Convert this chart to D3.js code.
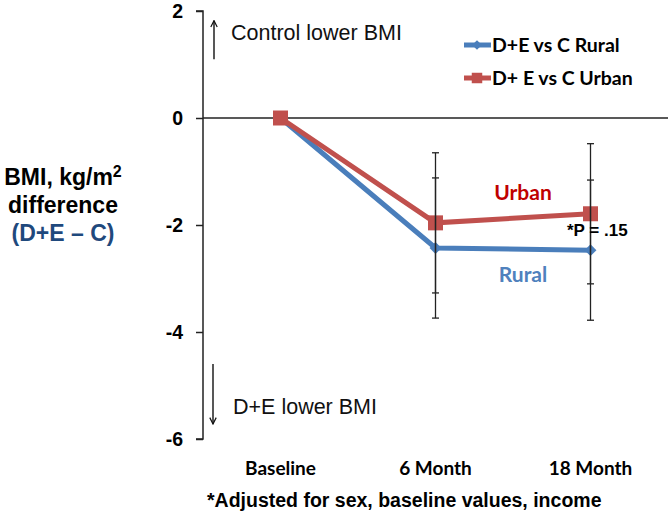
<!DOCTYPE html>
<html><head><meta charset="utf-8">
<script src="https://cdn.jsdelivr.net/npm/d3@7"></script>
<style>body{margin:0;background:#fff;}svg{display:block;}</style>
</head><body>
<svg id="c" width="669" height="516"></svg>
<script>
const categories = ["Baseline", "6 Month", "18 Month"];
const ruralValues = [0, -2.43, -2.47];
const ruralLow = [null, -3.74, -3.78];
const ruralHigh = [null, -1.12, -1.16];
const urbanValues = [0, -1.96, -1.79];
const urbanLow = [null, -3.27, -3.10];
const urbanHigh = [null, -0.65, -0.48];
const yTicks = [2, 0, -2, -4, -6];
const seriesNames = ["D+E vs C Rural", "D+ E vs C Urban"];

const svg = d3.select("#c");
const x = d3.scalePoint().domain(categories).range([203, 668]).padding(0.5);
const y = d3.scaleLinear().domain([-6, 2]).range([439, 11]);

const blue = "#4A7EBB", red = "#C0504D";
const arial = "Liberation Sans, Arial, sans-serif";
const legFont = "Lato, Carlito, sans-serif";

// y axis
const yAxis = d3.axisLeft(y).tickValues(yTicks).tickSize(7).tickFormat(d => String(d));
const ga = svg.append("g").attr("transform", "translate(203,0)").call(yAxis);
ga.select(".domain").attr("stroke", "#222").attr("stroke-width", 1.5).attr("d", "M-7," + y(2) + "H0V" + y(-6) + "H-7");
ga.selectAll(".tick line").attr("stroke", "#222").attr("stroke-width", 1.5);
ga.selectAll(".tick text").attr("x", -20).attr("font-family", arial)
  .attr("font-weight", "bold").attr("font-size", 19.5).attr("fill", "#000");

// zero line
svg.append("line").attr("x1", 203).attr("x2", 668).attr("y1", y(0)).attr("y2", y(0))
  .attr("stroke", "#222").attr("stroke-width", 1.5);

// arrows
const defs = svg.append("defs");
defs.append("marker").attr("id", "ah").attr("viewBox", "0 0 10 10").attr("refX", 9).attr("refY", 5)
  .attr("markerWidth", 8).attr("markerHeight", 8).attr("markerUnits", "userSpaceOnUse").attr("orient", "auto")
  .append("path").attr("d", "M1,1L9,5L1,9").attr("fill", "none").attr("stroke", "#111").attr("stroke-width", 1.5);
svg.append("line").attr("x1", 214).attr("x2", 214).attr("y1", y(1.1)).attr("y2", y(1.82))
  .attr("stroke", "#111").attr("stroke-width", 1.4).attr("marker-end", "url(#ah)");
svg.append("line").attr("x1", 213).attr("x2", 213).attr("y1", y(-4.6)).attr("y2", y(-5.72))
  .attr("stroke", "#111").attr("stroke-width", 1.4).attr("marker-end", "url(#ah)");
svg.append("text").attr("x", 231).attr("y", 40).text("Control lower BMI")
  .attr("font-family", arial).attr("font-size", 21.5).attr("fill", "#111");
svg.append("text").attr("x", 233).attr("y", 414).text("D+E lower BMI")
  .attr("font-family", arial).attr("font-size", 21.5).attr("fill", "#111");

// lines and markers
const line = d3.line().x((d, i) => x(categories[i])).y(d => y(d));
svg.append("path").datum(ruralValues).attr("d", line).attr("fill", "none").attr("stroke", blue).attr("stroke-width", 5);
svg.append("path").datum(urbanValues).attr("d", line).attr("fill", "none").attr("stroke", red).attr("stroke-width", 5);

const diamond = d3.symbol().type(d3.symbolDiamond2).size(90);
const square = d3.symbol().type(d3.symbolSquare).size(225);
ruralValues.forEach((v, i) => svg.append("path").attr("d", diamond())
  .attr("transform", `translate(${x(categories[i])},${y(v)})`).attr("fill", blue));
urbanValues.forEach((v, i) => svg.append("path").attr("d", square())
  .attr("transform", `translate(${x(categories[i])},${y(v)})`).attr("fill", red));

// error bars (drawn on top)
function errBars(low, high) {
  categories.forEach((c, i) => {
    if (low[i] == null) return;
    const cx = x(c);
    svg.append("line").attr("x1", cx).attr("x2", cx).attr("y1", y(high[i])).attr("y2", y(low[i]))
      .attr("stroke", "#222").attr("stroke-width", 1.3);
    [low[i], high[i]].forEach(v => svg.append("line").attr("x1", cx - 3.5).attr("x2", cx + 3.5)
      .attr("y1", y(v)).attr("y2", y(v)).attr("stroke", "#222").attr("stroke-width", 1.3));
  });
}
errBars(urbanLow, urbanHigh);
errBars(ruralLow, ruralHigh);

// legend
[[blue, 45], [red, 78]].forEach((s, i) => {
  const ly = s[1];
  svg.append("line").attr("x1", 464).attr("x2", 491).attr("y1", ly).attr("y2", ly).attr("stroke", s[0]).attr("stroke-width", 5);
  svg.append("path").attr("d", i === 0 ? d3.symbol().type(d3.symbolDiamond2).size(60)() : d3.symbol().type(d3.symbolSquare).size(110)())
    .attr("transform", `translate(477,${ly})`).attr("fill", s[0]);
  svg.append("text").attr("x", 492).attr("y", ly + 7).text(seriesNames[i])
    .attr("font-family", legFont).attr("font-weight", "bold").attr("font-size", 19.5).attr("fill", "#000");
});

// category labels
categories.forEach(c => svg.append("text").attr("x", x(c)).attr("y", 475).attr("text-anchor", "middle").text(c)
  .attr("font-family", legFont).attr("font-weight", "bold").attr("font-size", 19).attr("fill", "#000"));

// annotations
svg.append("text").attr("x", 523).attr("y", 200).attr("text-anchor", "middle").text("Urban")
  .attr("font-family", legFont).attr("font-weight", "bold").attr("font-size", 21).attr("fill", "#C00000");
svg.append("text").attr("x", 523).attr("y", 282).attr("text-anchor", "middle").text("Rural")
  .attr("font-family", legFont).attr("font-weight", "bold").attr("font-size", 21).attr("fill", "#4F81BD");
svg.append("text").attr("x", 567).attr("y", 236).text("*P = .15")
  .attr("font-family", arial).attr("font-weight", "bold").attr("font-size", 17).attr("fill", "#000");

// footnote
svg.append("text").attr("x", 207).attr("y", 507).text("*Adjusted for sex, baseline values, income")
  .attr("font-family", arial).attr("font-weight", "bold").attr("font-size", 19.5).attr("fill", "#000");

// y title
const yt = svg.append("text").attr("text-anchor", "middle").attr("font-family", arial)
  .attr("font-weight", "bold").attr("font-size", 23);
const t1 = yt.append("tspan").attr("x", 63).attr("y", 185).attr("fill", "#000").text("BMI, kg/m");
t1.append("tspan").attr("dy", -8).attr("font-size", 16).text("2");
yt.append("tspan").attr("x", 63).attr("y", 213).attr("fill", "#000").text("difference");
yt.append("tspan").attr("x", 63).attr("y", 241).attr("fill", "#1F497D").text("(D+E – C)");
</script>
</body></html>
